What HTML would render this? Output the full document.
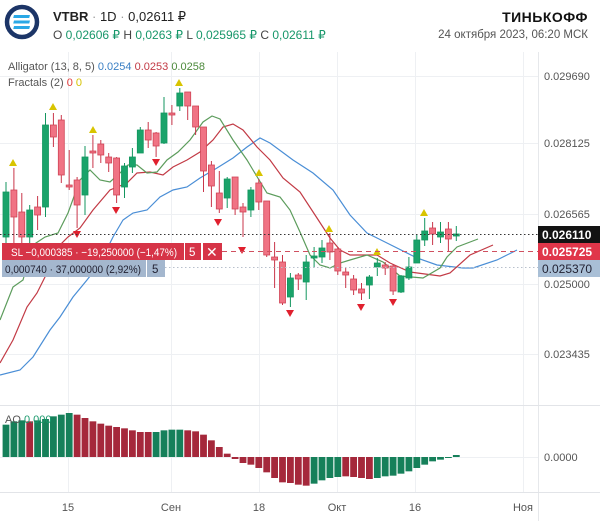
<!DOCTYPE html>
<html><head><meta charset="utf-8"><style>
html,body{margin:0;padding:0;background:#fff;width:600px;height:521px;overflow:hidden}
svg{display:block;font-family:"Liberation Sans","DejaVu Sans",sans-serif}
</style></head><body>
<svg id="s" width="600" height="521" viewBox="0 0 600 521" xmlns="http://www.w3.org/2000/svg">
<rect width="600" height="521" fill="#fff"/>
<g id="grid" stroke="#eef0f3" stroke-width="1"></g>
<line x1="538.5" y1="52" x2="538.5" y2="521" stroke="#e6e8eb"/>
<line x1="0" y1="405.5" x2="600" y2="405.5" stroke="#e2e4e8"/>
<line x1="0" y1="492.5" x2="600" y2="492.5" stroke="#e2e4e8"/>
<circle cx="22" cy="22" r="15" fill="#fff" stroke="#1c3567" stroke-width="4.5"/>
<g fill="#2aa8e6"><rect x="14" y="15" width="16" height="3" transform="skewX(-15) translate(4,0)"/><rect x="14" y="20.5" width="16" height="3" transform="skewX(-15) translate(5.5,0)"/><rect x="14" y="26" width="16" height="3" transform="skewX(-15) translate(7,0)"/></g>
<text x="53" y="21" font-size="13" fill="#222"><tspan font-weight="bold">VTBR</tspan><tspan fill="#999"> · </tspan>1D<tspan fill="#999"> · </tspan>0,02611 ₽</text>
<text x="53" y="39" font-size="12" fill="#444">O <tspan fill="#17976a">0,02606 ₽</tspan>  H <tspan fill="#17976a">0,0263 ₽</tspan>  L <tspan fill="#17976a">0,025965 ₽</tspan>  C <tspan fill="#17976a">0,02611 ₽</tspan></text>
<text x="588" y="22" font-size="14" font-weight="bold" fill="#111" text-anchor="end" letter-spacing="0.5">ТИНЬКОФФ</text>
<text x="588" y="38" font-size="11.5" fill="#555" text-anchor="end">24 октября 2023, 06:20 МСК</text>
<text x="8" y="70" font-size="11" fill="#555">Alligator (13, 8, 5) <tspan fill="#3a7fc4">0.0254</tspan> <tspan fill="#c23a45">0.0253</tspan> <tspan fill="#4d8a3c">0.0258</tspan></text>
<text x="8" y="86" font-size="11" fill="#555">Fractals (2) <tspan fill="#e23a3a">0</tspan> <tspan fill="#d6c200">0</tspan></text>
<g font-size="11" fill="#555">
<text x="544" y="80">0.029690</text><text x="544" y="147">0.028125</text><text x="544" y="218">0.026565</text><text x="544" y="288">0.025000</text><text x="544" y="358">0.023435</text><text x="544" y="461">0.0000</text>
</g>
<g font-size="11" fill="#555" text-anchor="middle">
<text x="68" y="511">15</text><text x="171" y="511">Сен</text><text x="259" y="511">18</text><text x="337" y="511">Окт</text><text x="415" y="511">16</text><text x="523" y="511">Ноя</text>
</g>
<g id="ind" fill="none" stroke-width="1.2"></g>
<g id="cd"></g>
<g id="fr"></g>
<g id="ao"></g>
<text x="5" y="423" font-size="11" fill="#555">AO <tspan fill="#17976a">0.000</tspan></text>
<line x1="0" y1="234.5" x2="538" y2="234.5" stroke="#333" stroke-dasharray="1.5,2.5"/>
<line x1="222" y1="251.5" x2="538" y2="251.5" stroke="#d05060" stroke-dasharray="5,4"/>
<line x1="165" y1="267.5" x2="538" y2="267.5" stroke="#b8c0cc" stroke-dasharray="1.5,2.5"/>
<rect x="538" y="226" width="62" height="17" fill="#131313"/><text x="542" y="239" font-size="12" font-weight="bold" fill="#fff">0.026110</text>
<rect x="538" y="243" width="62" height="17" fill="#e0364a"/><text x="542" y="256" font-size="12" font-weight="bold" fill="#fff">0.025725</text>
<rect x="538" y="260" width="62" height="17" fill="#a9bfd6"/><text x="542" y="273" font-size="12" fill="#223">0.025370</text>
<rect x="2" y="243" width="182" height="17" fill="#d63447"/>
<rect x="185" y="243" width="16" height="17" fill="#d63447"/>
<rect x="203" y="243" width="19" height="17" fill="#d63447"/>
<text x="11" y="256" font-size="11" fill="#fff" textLength="166" lengthAdjust="spacingAndGlyphs">SL −0,000385 · −19,250000 (−1,47%)</text>
<text x="189" y="256" font-size="11.5" fill="#fff">5</text>
<text x="206" y="257" font-size="14" fill="#fff">✕</text>
<rect x="2" y="260" width="144" height="17" fill="#a4b7ce"/>
<rect x="147" y="260" width="18" height="17" fill="#a4b7ce"/>
<text x="5" y="273" font-size="11" fill="#223" textLength="136" lengthAdjust="spacingAndGlyphs">0,000740 · 37,000000 (2,92%)</text>
<text x="152" y="273" font-size="11.5" fill="#223">5</text>
</svg>
<script>
var NS="http://www.w3.org/2000/svg";
function el(p,t,a){var e=document.createElementNS(NS,t);for(var k in a)e.setAttribute(k,a[k]);document.getElementById(p).appendChild(e);return e;}
[68,171,259,337,415,523].forEach(function(x){el("grid","line",{x1:x+.5,y1:52,x2:x+.5,y2:492});});
[76,143,214,284,354].forEach(function(y){el("grid","line",{x1:0,y1:y+.5,x2:538,y2:y+.5});});
el("grid","line",{x1:0,y1:457.5,x2:538,y2:457.5});
var C=[[192,237,182,245,1],[190,217,168,245,0],[212,237,193,245,0],[210,237,205,245,1],[207,215,196,230,0],[125,207,113,217,1],[125,137,113,147,0],[120,175,115,183,0],[185,187,150,190,0],[180,205,177,228,0],[157,195,146,215,1],[151,153,135,168,0],[144,155,140,163,0],[157,163,153,172,0],[158,195,157,203,0],[166,187,163,198,1],[157,167,148,173,1],[130,153,127,153,1],[130,140,122,148,0],[133,146,132,157,0],[113,143,97,144,1],[113,115,105,125,0],[93,106,88,111,1],[92,106,92,120,0],[106,127,106,135,0],[127,171,127,192,0],[165,186,161,207,0],[193,209,171,213,0],[179,198,177,208,1],[177,209,177,215,0],[207,212,203,237,0],[190,210,187,217,1],[183,202,179,210,0],[201,255,201,257,0],[257,260,242,288,0],[262,303,255,305,0],[278,297,273,307,1],[275,279,273,290,0],[262,282,255,300,1],[256,258,247,268,1],[248,257,240,263,1],[243,252,233,260,0],[249,271,247,275,0],[272,275,267,288,0],[279,290,275,295,0],[289,293,283,300,0],[277,285,275,299,1],[263,267,258,276,1],[265,268,262,275,0],[266,291,264,295,0],[276,292,275,293,1],[267,278,257,280,1],[240,263,235,263,1],[231,240,218,246,1],[228,234,222,245,0],[232,237,222,243,1],[229,239,222,251,0],[234,236,226,241,1]];
C.forEach(function(c,i){var x=6+7.9*i;var g=c[4];
el("cd","line",{x1:x,y1:c[2],x2:x,y2:c[3],stroke:g?"#13965f":"#c9364a","stroke-width":1});
var h=Math.max(c[1]-c[0],2);
el("cd","rect",{x:x-3,y:c[0],width:6,height:h,fill:g?"#1aa36a":"#f07384",stroke:g?"#13965f":"#d04456","stroke-width":0.8});});
[[13,163],[53,107],[93,130],[179,83],[259,173],[329,229],[377,252],[424,213]].forEach(function(p){el("fr","polygon",{points:(p[0]-4)+","+(p[1]+3)+" "+(p[0]+4)+","+(p[1]+3)+" "+p[0]+","+(p[1]-4),fill:"#d8c400"});});
[[77,234],[116,210],[156,162],[218,222],[242,250],[290,313],[361,307],[393,302]].forEach(function(p){el("fr","polygon",{points:(p[0]-4)+","+(p[1]-3)+" "+(p[0]+4)+","+(p[1]-3)+" "+p[0]+","+(p[1]+4),fill:"#e0202e"});});
function pl(pts,col){el("ind","polyline",{points:pts.map(function(p){return p.join(",")}).join(" "),stroke:col});}
pl([[0,375],[20,370],[33,357],[50,330],[60,317],[73,297],[87,280],[100,263],[113,237],[123,220],[133,213],[147,210],[160,197],[173,190],[187,187],[200,178],[217,168],[233,158],[247,147],[260,138],[270,143],[293,160],[313,173],[333,190],[350,215],[367,233],[377,238],[417,258],[437,265],[463,268],[473,268],[497,260],[517,250]],"#4a8ed6");
pl([[0,363],[13,340],[27,307],[37,293],[47,273],[57,248],[68,237],[80,228],[93,210],[110,190],[127,183],[137,173],[150,172],[163,175],[173,167],[187,160],[200,152],[213,140],[223,127],[233,124],[243,130],[257,147],[270,160],[283,178],[300,192],[317,218],[330,238],[340,250],[350,255],[377,255],[390,263],[410,272],[440,276],[450,273],[470,255],[493,245]],"#c23a45");
pl([[0,320],[13,287],[23,280],[33,245],[45,237],[58,233],[68,213],[80,180],[90,170],[100,180],[110,182],[120,173],[128,165],[137,165],[147,173],[157,172],[167,160],[178,152],[190,140],[203,122],[212,116],[220,119],[233,140],[247,160],[253,170],[267,193],[280,197],[290,210],[300,232],[310,255],[320,265],[330,268],[340,263],[350,260],[367,255],[383,262],[400,276],[423,278],[440,268],[447,257],[457,247],[478,239]],"#5c9c5c");
var A=[[75,1],[65,1],[62,1],[65,0],[62,1],[58,1],[50,1],[45,1],[40,1],[45,0],[55,0],[65,0],[72,0],[78,0],[82,0],[86,0],[92,0],[97,0],[97,0],[97,1],[92,1],[90,1],[90,1],[92,0],[95,0],[105,0],[122,0],[142,0],[162,0],[178,0],[190,0],[195,0],[205,0],[218,0],[235,0],[248,0],[250,0],[255,0],[258,0],[252,1],[242,1],[235,1],[232,1],[230,0],[232,0],[235,0],[238,0],[235,1],[230,1],[228,1],[222,1],[215,1],[205,1],[195,1],[185,1],[180,1],[175,1],[166,1]];
A.forEach(function(a,i){var x=6+7.9*i;var v=(172-a[0])/3;var y=v>0?457-v:457;var h=Math.max(Math.abs(v),1);
el("ao","rect",{x:x-3.4,y:y,width:6.8,height:h,fill:a[1]?"#16805a":"#a5283b"});});
</script>
</body></html>
